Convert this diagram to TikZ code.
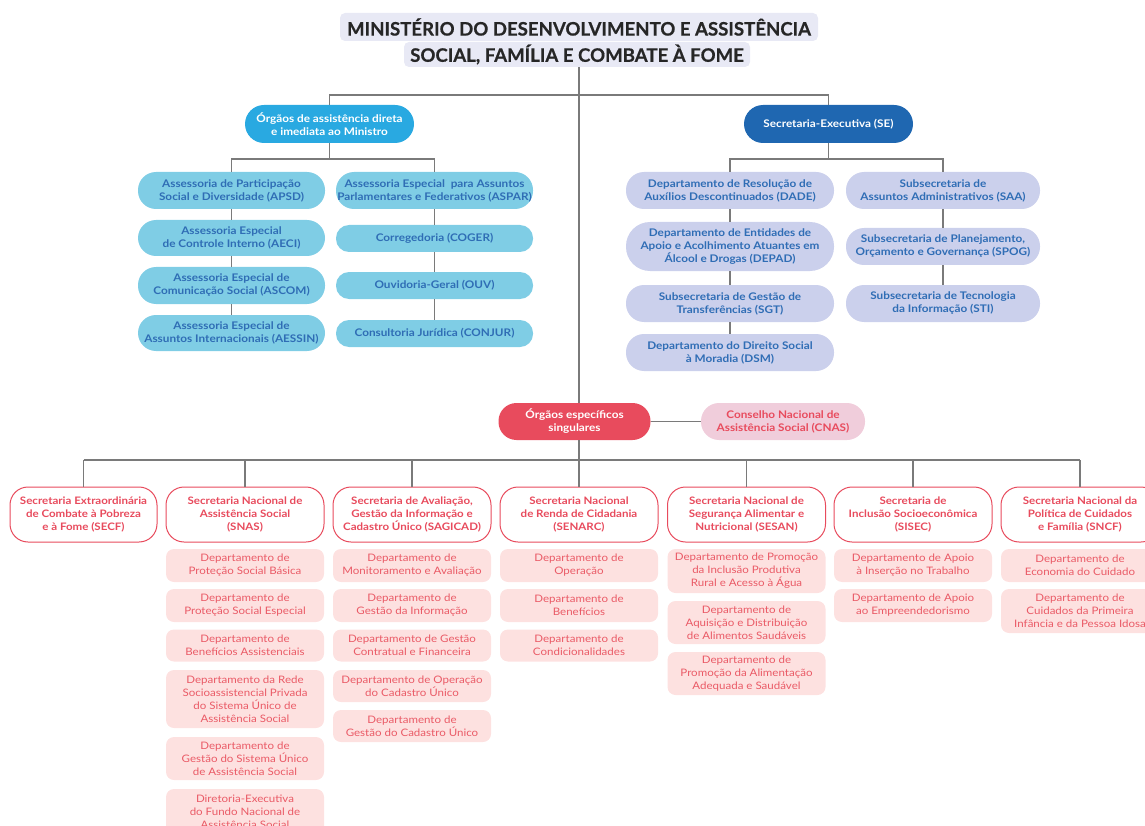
\documentclass[tikz,border=0pt]{standalone}
\usepackage{fontspec}
\setmainfont{Lato}[FakeStretch=1.12]
\newfontfamily\titlefont{Lato}[FakeBold=0.6]
\definecolor{linegray}{HTML}{7A7A7A}
\definecolor{cyanD}{HTML}{29A9E1}
\definecolor{seblue}{HTML}{1F67B1}
\definecolor{cyanL}{HTML}{7FCDE5}
\definecolor{txtblue}{HTML}{2F6DB5}
\definecolor{lav}{HTML}{CBD0EC}
\definecolor{redA}{HTML}{E84B5D}
\definecolor{pinkC}{HTML}{F0CDDB}
\definecolor{deptpink}{HTML}{FDE1E0}
\definecolor{depttxt}{HTML}{EA5A66}
\definecolor{titlebgc}{HTML}{E8E9F5}
\definecolor{titletxt}{HTML}{262626}
\tikzset{
  conn/.style={draw=linegray, line width=1.1pt},
  base/.style={rectangle, inner sep=0pt, align=center, font=\fontsize{10}{12.8}\selectfont},
  titlebg/.style={rectangle, fill=titlebgc, rounded corners=5pt, inner sep=0pt, text=titletxt, font=\titlefont\fontsize{18.6}{20}\selectfont\bfseries},
  headA/.style={base, fill=cyanD, text=white, font=\fontsize{10.5}{13}\selectfont\bfseries},
  headSE/.style={base, fill=seblue, text=white, font=\fontsize{10.5}{13}\selectfont\bfseries},
  cbox/.style={base, fill=cyanL, text=txtblue, font=\fontsize{10.5}{13}\selectfont\bfseries},
  lbox/.style={base, fill=lav, text=txtblue, font=\fontsize{10.5}{13}\selectfont\bfseries},
  headR/.style={base, fill=redA, text=white, font=\fontsize{10.5}{13}\selectfont\bfseries},
  cnasbox/.style={base, fill=pinkC, text=redA, font=\fontsize{10.5}{13}\selectfont\bfseries},
  secbox/.style={base, fill=white, draw=redA, line width=1pt, text=redA, rounded corners=18pt, minimum height=55pt, font=\fontsize{10.3}{13}\selectfont\bfseries},
  dept/.style={base, fill=deptpink, text=depttxt, rounded corners=8pt, font=\fontsize{10.3}{13}\selectfont},
}
\begin{document}
\begin{tikzpicture}[x=1pt,y=-1pt]
\useasboundingbox (0,0) rectangle (1145,826);
\clip (0,0) rectangle (1145,826);
% title
\node[titlebg, minimum width=478pt, minimum height=28pt] (t1) at (579,27) {MINISTÉRIO DO DESENVOLVIMENTO E ASSISTÊNCIA};
\node[titlebg, minimum width=346pt, minimum height=25pt] (t2) at (577,54.5) {SOCIAL, FAMÍLIA E COMBATE À FOME};
% level 1
\node[headA, minimum width=169pt, minimum height=38pt, rounded corners=19pt] (oad) at (329.5,124) {Órgãos de assistência direta\\e imediata ao Ministro};
\node[headSE, minimum width=169pt, minimum height=38pt, rounded corners=19pt] (se) at (828.5,124) {Secretaria-Executiva (SE)};
% left cyan column
\node[cbox, minimum width=187pt, minimum height=37pt, rounded corners=18pt] (apsd) at (231.5,190.5) {Assessoria de Participação\\Social e Diversidade (APSD)};
\node[cbox, minimum width=187pt, minimum height=36pt, rounded corners=18pt] (aeci) at (231.5,238) {Assessoria Especial\\de Controle Interno (AECI)};
\node[cbox, minimum width=187pt, minimum height=37pt, rounded corners=18pt] (ascom) at (231.5,285.5) {Assessoria Especial de\\Comunicação Social (ASCOM)};
\node[cbox, minimum width=187pt, minimum height=36pt, rounded corners=18pt] (aessin) at (231.5,333) {Assessoria Especial de\\Assuntos Internacionais (AESSIN)};
% right cyan column
\node[cbox, minimum width=197pt, minimum height=37pt, rounded corners=18pt] (aspar) at (434.5,190.5) {Assessoria Especial\ \ para Assuntos\\Parlamentares e Federativos (ASPAR)};
\node[cbox, minimum width=197pt, minimum height=27pt, rounded corners=13pt] (coger) at (434.5,238.5) {Corregedoria (COGER)};
\node[cbox, minimum width=197pt, minimum height=27pt, rounded corners=13pt] (ouv) at (434.5,285.5) {Ouvidoria-Geral (OUV)};
\node[cbox, minimum width=197pt, minimum height=27pt, rounded corners=13pt] (conjur) at (434.5,333.5) {Consultoria Jurídica (CONJUR)};
% SE left column
\node[lbox, minimum width=208pt, minimum height=37pt, rounded corners=18pt] (dade) at (730,190.5) {Departamento de Resolução de\\Auxílios Descontinuados (DADE)};
\node[lbox, minimum width=208pt, minimum height=49pt, rounded corners=24pt] (depad) at (730,246.5) {Departamento de Entidades de\\Apoio e Acolhimento Atuantes em\\Álcool e Drogas (DEPAD)};
\node[lbox, minimum width=208pt, minimum height=37pt, rounded corners=18pt] (sgt) at (730,303.5) {Subsecretaria de Gestão de\\Transferências (SGT)};
\node[lbox, minimum width=208pt, minimum height=37pt, rounded corners=18pt] (dsm) at (730,352.5) {Departamento do Direito Social\\à Moradia (DSM)};
% SE right column
\node[lbox, minimum width=194pt, minimum height=37pt, rounded corners=18pt] (saa) at (943,190.5) {Subsecretaria de\\Assuntos Administrativos (SAA)};
\node[lbox, minimum width=194pt, minimum height=37pt, rounded corners=18pt] (spog) at (943,246.5) {Subsecretaria de Planejamento,\\Orçamento e Governança (SPOG)};
\node[lbox, minimum width=194pt, minimum height=37pt, rounded corners=18pt] (sti) at (943,303.5) {Subsecretaria de Tecnologia\\da Informação (STI)};
% specific organs
\node[headR, minimum width=152pt, minimum height=37pt, rounded corners=18pt] (oes) at (574.5,421.5) {Órgãos específicos\\singulares};
\node[cnasbox, minimum width=164pt, minimum height=37pt, rounded corners=18pt] (cnas) at (783,421.5) {Conselho Nacional de\\Assistência Social (CNAS)};
% secretariats
\node[secbox, minimum width=147pt] (secf) at (83.5,514.5) {Secretaria Extraordinária\\de Combate à Pobreza\\e à Fome (SECF)};
\node[secbox, minimum width=158pt] (snas) at (245,514.5) {Secretaria Nacional de\\Assistência Social\\(SNAS)};
\node[secbox, minimum width=158pt] (sagicad) at (412,514.5) {Secretaria de Avaliação,\\Gestão da Informação e\\Cadastro Único (SAGICAD)};
\node[secbox, minimum width=158pt] (senarc) at (579,514.5) {Secretaria Nacional\\de Renda de Cidadania\\(SENARC)};
\node[secbox, minimum width=158pt] (sesan) at (746.5,514.5) {Secretaria Nacional de\\Segurança Alimentar e\\Nutricional (SESAN)};
\node[secbox, minimum width=158pt] (sisec) at (913,514.5) {Secretaria de\\Inclusão Socioeconômica\\(SISEC)};
\node[secbox, minimum width=158pt] (sncf) at (1080,514.5) {Secretaria Nacional da\\Política de Cuidados\\e Família (SNCF)};
% SNAS departments
\node[dept, minimum width=158pt, minimum height=33pt] (snas1) at (245,565.5) {Departamento de\\Proteção Social Básica};
\node[dept, minimum width=158pt, minimum height=33pt] (snas2) at (245,605.5) {Departamento de\\Proteção Social Especial};
\node[dept, minimum width=158pt, minimum height=32pt] (snas3) at (245,645.5) {Departamento de\\Benefícios Assistenciais};
\node[dept, minimum width=158pt, minimum height=58pt] (snas4) at (245,699) {Departamento da Rede\\Socioassistencial Privada\\do Sistema Único de\\Assistência Social};
\node[dept, minimum width=158pt, minimum height=43pt] (snas5) at (245,758.5) {Departamento de\\Gestão do Sistema Único\\de Assistência Social};
\node[dept, minimum width=158pt, minimum height=46pt] (snas6) at (245,812) {Diretoria-Executiva\\do Fundo Nacional de\\Assistência Social};
% SAGICAD departments
\node[dept, minimum width=158pt, minimum height=33pt] (sag1) at (412,565.5) {Departamento de\\Monitoramento e Avaliação};
\node[dept, minimum width=158pt, minimum height=33pt] (sag2) at (412,605.5) {Departamento de\\Gestão da Informação};
\node[dept, minimum width=158pt, minimum height=32pt] (sag3) at (412,645.5) {Departamento de Gestão\\Contratual e Financeira};
\node[dept, minimum width=158pt, minimum height=32pt] (sag4) at (412,686) {Departamento de Operação\\do Cadastro Único};
\node[dept, minimum width=158pt, minimum height=32pt] (sag5) at (412,726) {Departamento de\\Gestão do Cadastro Único};
% SENARC departments
\node[dept, minimum width=158pt, minimum height=33pt] (sen1) at (579,565.5) {Departamento de\\Operação};
\node[dept, minimum width=158pt, minimum height=33pt] (sen2) at (579,605.5) {Departamento de\\Benefícios};
\node[dept, minimum width=158pt, minimum height=32pt] (sen3) at (579,645.5) {Departamento de\\Condicionalidades};
% SESAN departments
\node[dept, minimum width=158pt, minimum height=44pt] (ses1) at (746.5,571) {Departamento de Promoção\\da Inclusão Produtiva\\Rural e Acesso à Água};
\node[dept, minimum width=158pt, minimum height=43pt] (ses2) at (746.5,622.5) {Departamento de\\Aquisição e Distribuição\\de Alimentos Saudáveis};
\node[dept, minimum width=158pt, minimum height=43pt] (ses3) at (746.5,673.5) {Departamento de\\Promoção da Alimentação\\Adequada e Saudável};
% SISEC departments
\node[dept, minimum width=158pt, minimum height=33pt] (sis1) at (913,565.5) {Departamento de Apoio\\à Inserção no Trabalho};
\node[dept, minimum width=158pt, minimum height=33pt] (sis2) at (913,605.5) {Departamento de Apoio\\ao Empreendedorismo};
% SNCF departments
\node[dept, minimum width=158pt, minimum height=33pt] (snc1) at (1080,565.5) {Departamento de\\Economia do Cuidado};
\node[dept, minimum width=158pt, minimum height=44pt] (snc2) at (1080,611) {Departamento de\\Cuidados da Primeira\\Infância e da Pessoa Idosa};
% bar coordinates
\coordinate (bar1) at (0,95);
\coordinate (bar2) at (0,159);
\coordinate (bar3) at (0,460);
% connectors
\draw[conn] (t1.south |- t2.south) -- (t1.south |- oes.north);
\draw[conn] (oad.north) -- (oad.north |- bar1) -- (se.north |- bar1) -- (se.north);
\draw[conn] (oad.south) -- (oad.south |- bar2);
\draw[conn] (apsd.north) -- (apsd.north |- bar2) -- (aspar.north |- bar2) -- (aspar.north);
\draw[conn] (apsd.south) -- (aeci.north);
\draw[conn] (aeci.south) -- (ascom.north);
\draw[conn] (ascom.south) -- (aessin.north);
\draw[conn] (aspar.south) -- (coger.north);
\draw[conn] (coger.south) -- (ouv.north);
\draw[conn] (ouv.south) -- (conjur.north);
\draw[conn] (se.south) -- (se.south |- bar2);
\draw[conn] (dade.north) -- (dade.north |- bar2) -- (saa.north |- bar2) -- (saa.north);
\draw[conn] (dade.south) -- (depad.north);
\draw[conn] (depad.south) -- (sgt.north);
\draw[conn] (sgt.south) -- (dsm.north);
\draw[conn] (saa.south) -- (spog.north);
\draw[conn] (spog.south) -- (sti.north);
\draw[conn] (oes.east) -- (cnas.west);
\draw[conn] (t1.south |- oes.south) -- (t1.south |- bar3);
\draw[conn] (secf.north |- bar3) -- (sncf.north |- bar3);
\foreach \s in {secf,snas,sagicad,senarc,sesan,sisec,sncf}{
  \draw[conn] (\s.north) -- (\s.north |- bar3);
}
\end{tikzpicture}
\end{document}
